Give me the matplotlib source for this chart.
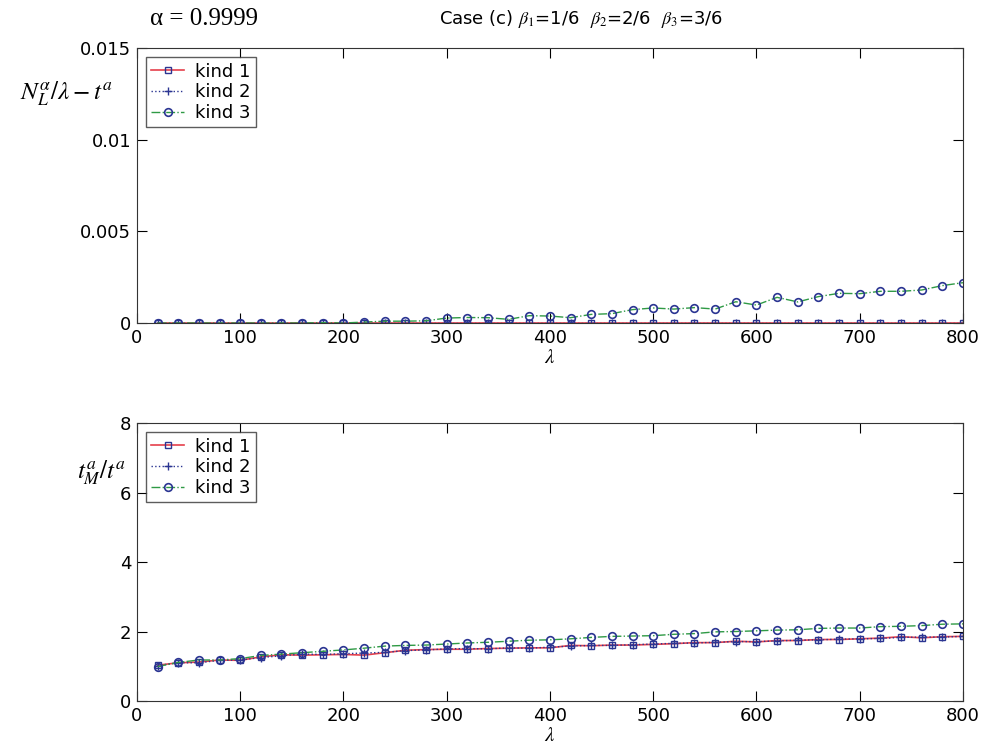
import numpy as np
import matplotlib
matplotlib.use('Agg')
import matplotlib.pyplot as plt

# %% Data
lam = np.arange(20, 801, 20)

# top panel: N_L^alpha / lambda - t^a
nl_kind1 = [0.0] * 40
nl_kind2 = [0.0] * 40
nl_kind3 = [0.0, 0.0, 0.0, 0.0, 0.0, 0.0, 0.0, 0.0, 0.00002, 0.0,
            0.00005, 0.0001, 0.0001, 0.00012, 0.00027, 0.0003, 0.00029, 0.0002, 0.0004, 0.00038,
            0.00029, 0.00047, 0.00051, 0.00073, 0.00082, 0.00076, 0.00084, 0.00076, 0.00116, 0.00098,
            0.0014, 0.00115, 0.00144, 0.00162, 0.0016, 0.00173, 0.00173, 0.0018, 0.00204, 0.0022]

# bottom panel: t_M^a / t^a
tm_kind1 = [1.03, 1.10, 1.12, 1.18, 1.17, 1.27, 1.33, 1.32, 1.33, 1.34,
            1.32, 1.39, 1.46, 1.48, 1.49, 1.49, 1.51, 1.52, 1.53, 1.53,
            1.60, 1.59, 1.61, 1.61, 1.63, 1.65, 1.68, 1.68, 1.72, 1.70,
            1.74, 1.74, 1.77, 1.77, 1.79, 1.81, 1.85, 1.82, 1.85, 1.86]
tm_kind2 = [1.02, 1.10, 1.10, 1.17, 1.18, 1.25, 1.30, 1.35, 1.34, 1.36,
            1.38, 1.40, 1.45, 1.47, 1.50, 1.51, 1.50, 1.53, 1.52, 1.55,
            1.58, 1.60, 1.60, 1.62, 1.64, 1.66, 1.67, 1.69, 1.71, 1.71,
            1.73, 1.75, 1.76, 1.78, 1.79, 1.80, 1.83, 1.84, 1.84, 1.86]
tm_kind3 = [0.99, 1.11, 1.18, 1.18, 1.22, 1.31, 1.35, 1.39, 1.43, 1.47,
            1.52, 1.58, 1.60, 1.61, 1.64, 1.67, 1.69, 1.72, 1.75, 1.76,
            1.79, 1.83, 1.86, 1.87, 1.88, 1.92, 1.94, 1.99, 2.00, 2.02,
            2.04, 2.05, 2.09, 2.10, 2.10, 2.14, 2.15, 2.17, 2.21, 2.22]

labels = ['kind 1', 'kind 2', 'kind 3']
xticks = np.arange(0, 801, 100)

# %% Styling
plt.rcParams['mathtext.fontset'] = 'stix'
red = '#e5404c'
blue = '#2b3592'
green = '#2f9a45'
tickfont = 13

fig = plt.figure(figsize=(9.85, 7.47), dpi=100)
ax1 = fig.add_axes([0.139, 0.5676, 0.8386, 0.368])
ax2 = fig.add_axes([0.139, 0.0616, 0.8386, 0.372])

def drawPanel(ax, k1, k2, k3, ylim, yticks, yticklabels):
    ax.plot(lam, k1, '-', color=red, lw=1.2, marker='s', ms=4.5,
            mfc='none', mec=blue, mew=1.0, label=labels[0])
    ax.plot(lam, k2, ':', color=blue, lw=1.0, marker='+', ms=6,
            mec=blue, mew=1.0, label=labels[1])
    ax.plot(lam, k3, '-.', color=green, lw=1.0, marker='o', ms=5.5,
            mfc='none', mec=blue, mew=1.2, label=labels[2])
    ax.set_xlim(0, 800)
    ax.set_ylim(*ylim)
    ax.set_xticks(xticks)
    ax.set_yticks(yticks)
    ax.set_yticklabels(yticklabels)
    ax.tick_params(direction='in', length=7, top=True, right=True,
                   labelsize=tickfont, pad=4)
    for s in ax.spines.values():
        s.set_color('#333333')
    ax.set_xlabel(r'$\lambda$', fontsize=15, labelpad=0)
    leg = ax.legend(loc='upper left', fontsize=tickfont, frameon=True,
                    fancybox=False, edgecolor='#333333', handlelength=1.8,
                    borderaxespad=0.5, labelspacing=0.15, borderpad=0.3,
                    handletextpad=0.6)
    leg.get_frame().set_linewidth(1.0)

drawPanel(ax1, nl_kind1, nl_kind2, nl_kind3, (0, 0.015),
          [0, 0.005, 0.01, 0.015], ['0', '0.005', '0.01', '0.015'])
drawPanel(ax2, tm_kind1, tm_kind2, tm_kind3, (0, 8),
          [0, 2, 4, 6, 8], ['0', '2', '4', '6', '8'])

# y labels written horizontally, MATLAB-like
fig.text(0.02, 0.875, r'$N_L^{\alpha}/\lambda-t^a$', fontsize=18,
         ha='left', va='center')
fig.text(0.078, 0.367, r'$t_M^a/t^a$', fontsize=18,
         ha='left', va='center')

# titles
fig.text(0.152, 0.974, 'α = 0.9999', fontsize=18, family='Liberation Serif',
         ha='left', va='center')
fig.text(0.59, 0.974, r'Case (c) $\beta_1$=1/6  $\beta_2$=2/6  $\beta_3$=3/6',
         fontsize=13, ha='center', va='center')

fig.savefig('out.png', dpi=100)
